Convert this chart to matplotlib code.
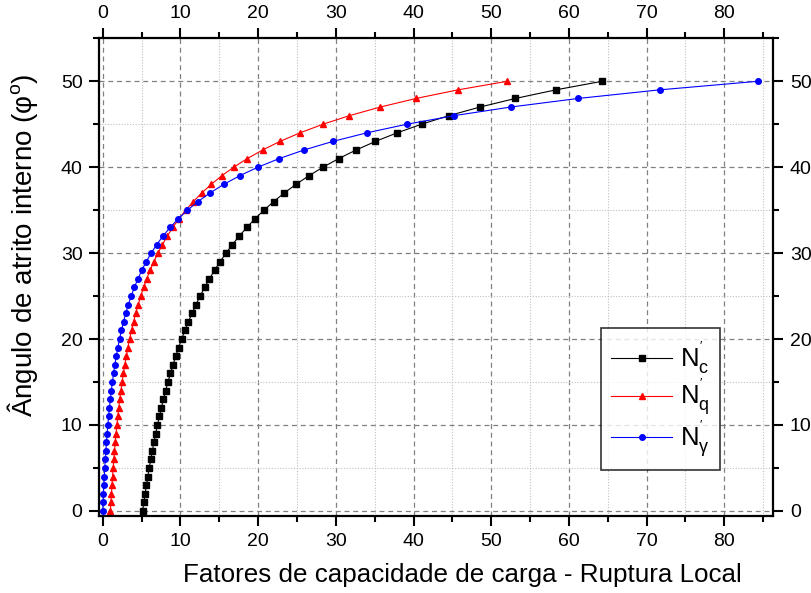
import matplotlib
matplotlib.use("Agg")
import matplotlib.pyplot as plt
from matplotlib.ticker import MultipleLocator

plt.rcParams['font.family'] = ['Liberation Sans', 'DejaVu Sans']
plt.rcParams['mathtext.fontset'] = 'custom'
plt.rcParams['mathtext.rm'] = 'Liberation Sans'
plt.rcParams['mathtext.it'] = 'Liberation Sans'
plt.rcParams['mathtext.bf'] = 'Liberation Sans:bold'

phi = list(range(0, 51))
Nc = [5.14, 5.30, 5.46, 5.63, 5.81, 5.99, 6.19, 6.39, 6.60, 6.82,
      7.05, 7.30, 7.55, 7.82, 8.10, 8.40, 8.72, 9.05, 9.40, 9.77,
      10.16, 10.58, 11.02, 11.50, 12.00, 12.54, 13.11, 13.73, 14.39, 15.10,
      15.87, 16.70, 17.59, 18.56, 19.61, 20.76, 22.01, 23.37, 24.87, 26.53,
      28.35, 30.37, 32.61, 35.10, 37.89, 41.03, 44.56, 48.56, 53.11, 58.31,
      64.29]
Nq = [1.00, 1.06, 1.13, 1.20, 1.27, 1.35, 1.43, 1.52, 1.62, 1.72,
      1.83, 1.95, 2.07, 2.20, 2.35, 2.50, 2.67, 2.84, 3.04, 3.24,
      3.47, 3.71, 3.97, 4.25, 4.56, 4.90, 5.26, 5.66, 6.10, 6.58,
      7.11, 7.69, 8.33, 9.03, 9.82, 10.69, 11.66, 12.74, 13.96, 15.32,
      16.86, 18.60, 20.57, 22.82, 25.40, 28.35, 31.76, 35.72, 40.33, 45.72,
      52.08]
Ng = [0.00, 0.05, 0.10, 0.15, 0.21, 0.27, 0.34, 0.41, 0.49, 0.57,
      0.67, 0.76, 0.87, 0.99, 1.11, 1.25, 1.40, 1.57, 1.75, 1.95,
      2.17, 2.41, 2.68, 2.97, 3.30, 3.67, 4.07, 4.53, 5.03, 5.60,
      6.24, 6.96, 7.77, 8.69, 9.73, 10.91, 12.26, 13.81, 15.58, 17.62,
      19.98, 22.71, 25.90, 29.62, 33.99, 39.14, 45.24, 52.50, 61.20, 71.66,
      84.34]

labels = [r"$\mathregular{N^{'}_{c}}$", r"$\mathregular{N^{'}_{q}}$", r"$\mathregular{N^{'}_{\gamma}}$"]

fig = plt.figure(figsize=(8.11, 5.93), dpi=100)
ax = fig.add_axes([0.1224, 0.1298, 0.8311, 0.8056])

ax.plot(Nc, phi, color='black', lw=0.8, marker='s', ms=4, label=labels[0])
ax.plot(Nq, phi, color='red', lw=0.8, marker='^', ms=5, label=labels[1])
ax.plot(Ng, phi, color='blue', lw=0.8, marker='o', ms=4, label=labels[2])

ax.set_xlim(-0.44, 86.3)
ax.set_ylim(-0.6, 55)
ax.xaxis.set_major_locator(MultipleLocator(10))
ax.xaxis.set_minor_locator(MultipleLocator(5))
ax.yaxis.set_major_locator(MultipleLocator(10))
ax.yaxis.set_minor_locator(MultipleLocator(5))

ax.grid(which='major', color='#808080', linestyle=(0, (4, 3)), linewidth=0.9)
ax.grid(which='minor', color='#c0c0c0', linestyle=(0, (1, 1.5)), linewidth=0.8)
ax.set_axisbelow(True)

ax.tick_params(which='both', direction='out', top=True, right=True,
               labeltop=True, labelright=True, labelsize=14, width=1.5)
ax.tick_params(which='major', length=7, pad=5)
ax.tick_params(which='minor', length=4)
for s in ax.spines.values():
    s.set_linewidth(1.6)

ax.set_xlabel("Fatores de capacidade de carga - Ruptura Local", fontsize=18.7)
ax.xaxis.set_label_coords(0.539, -0.098)
ax.set_ylabel("Ângulo de atrito interno (φ$^{o}$)", fontsize=20)
ax.yaxis.set_label_coords(-0.088, 0.567)

leg = ax.legend(loc='upper left', bbox_to_anchor=(0.7407, 0.4464),
                bbox_transform=fig.transFigure, borderaxespad=0,
                fontsize=18.5, fancybox=False, frameon=True, edgecolor='black',
                handlelength=2.35, labelspacing=0.02, borderpad=0.42,
                handletextpad=0.3)
leg.get_frame().set_linewidth(1.2)

fig.savefig("out.png", dpi=100)
